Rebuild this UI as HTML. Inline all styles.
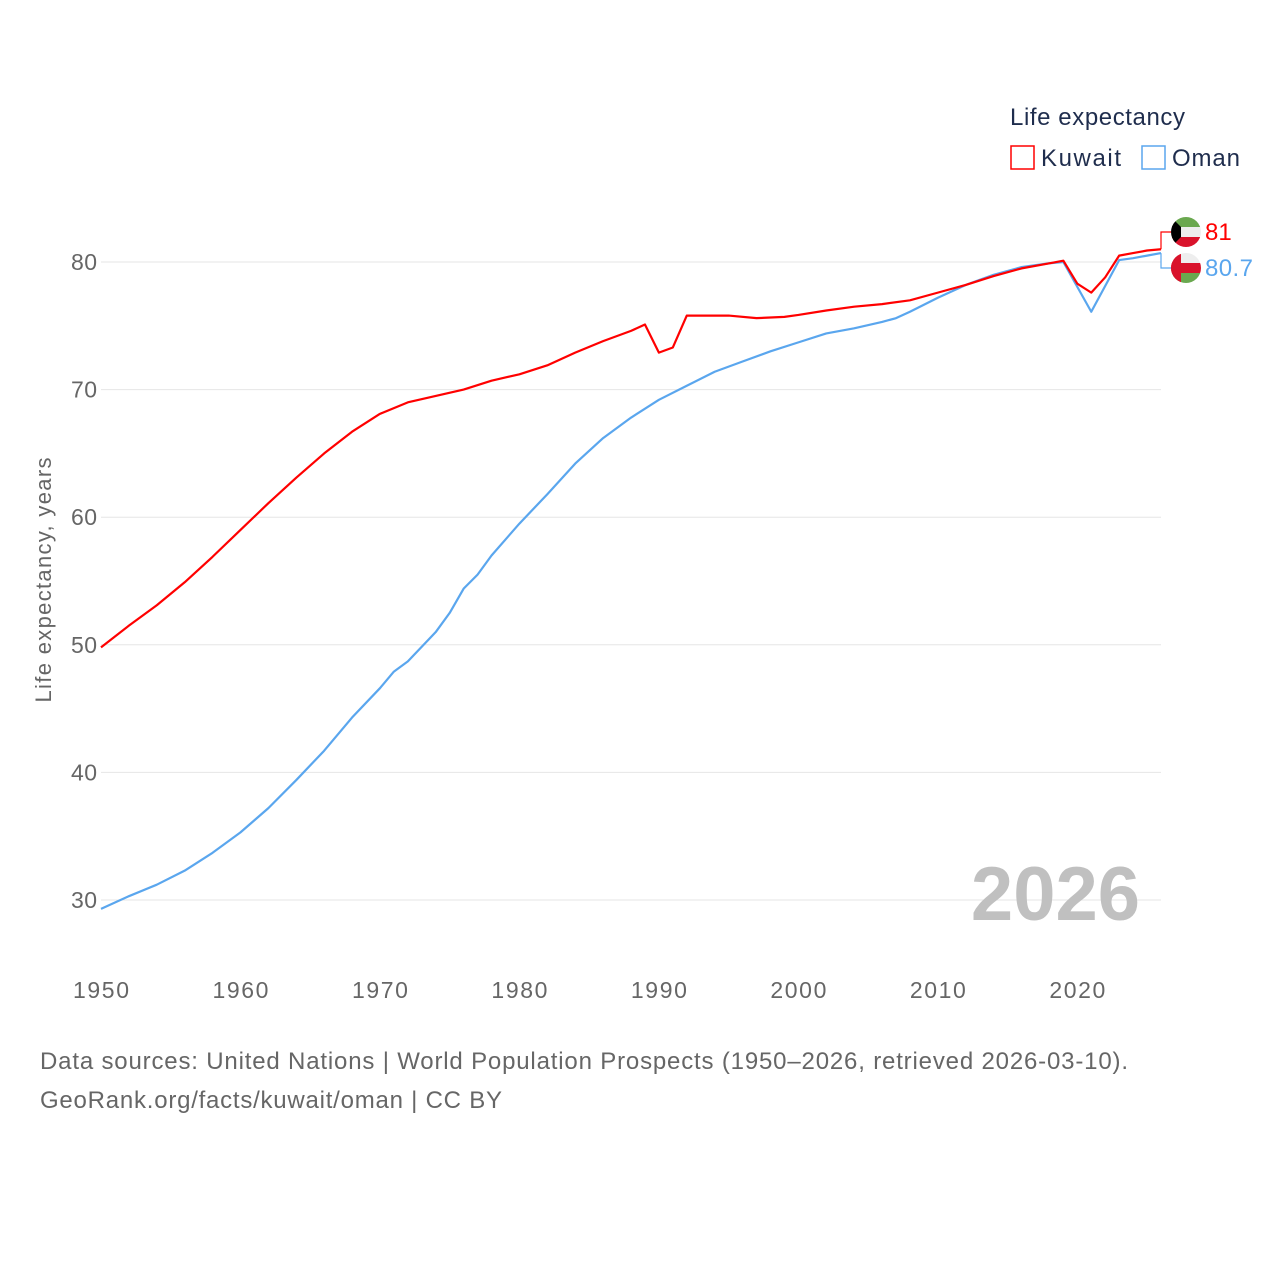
<!DOCTYPE html>
<html><head><meta charset="utf-8"><style>
body{margin:0;background:#fff;width:1280px;height:1280px;overflow:hidden;font-family:"Liberation Sans",sans-serif}
svg text{font-family:"Liberation Sans",sans-serif}
</style></head><body>
<svg id="c" width="1280" height="1280">
<text x="1010" y="125" font-size="24" fill="#1f2d4d" textLength="175">Life expectancy</text>
<g><rect x="1011" y="146" width="23" height="23" fill="none" stroke="#f00" stroke-width="1.5"/><text x="1041" y="166" font-size="24" fill="#1f2d4d" textLength="80">Kuwait</text></g>
<g><rect x="1142" y="146" width="23" height="23" fill="none" stroke="#5aa6ee" stroke-width="1.5"/><text x="1172" y="166" font-size="24" fill="#1f2d4d" textLength="68">Oman</text></g>
<text transform="translate(51,580) rotate(-90)" text-anchor="middle" font-size="22" fill="#666" textLength="245">Life expectancy, years</text>
<text x="1140" y="920" text-anchor="end" font-size="76" font-weight="bold" fill="#c0c0c0">2026</text>
<text x="40" y="1069" font-size="24" fill="#666" textLength="1088">Data sources: United Nations | World Population Prospects (1950–2026, retrieved 2026-03-10).</text>
<text x="40" y="1108" font-size="24" fill="#666" textLength="462">GeoRank.org/facts/kuwait/oman | CC BY</text>
</svg>
<script>
const yTicks=[30,40,50,60,70,80];
const xTicks=[1950,1960,1970,1980,1990,2000,2010,2020];
const kuwaitYears=[1950,1952,1954,1956,1958,1960,1962,1964,1966,1968,1970,1972,1974,1976,1978,1980,1982,1984,1986,1988,1989,1990,1991,1992,1993,1995,1997,1999,2000,2002,2004,2006,2008,2010,2012,2014,2016,2018,2019,2020,2021,2022,2023,2024,2025,2026];
const kuwaitValues=[49.8,51.5,53.1,54.9,56.9,59.0,61.1,63.1,65.0,66.7,68.1,69.0,69.5,70.0,70.7,71.2,71.9,72.9,73.8,74.6,75.1,72.9,73.3,75.8,75.8,75.8,75.6,75.7,75.85,76.2,76.5,76.7,77.0,77.6,78.2,78.9,79.5,79.9,80.1,78.3,77.6,78.8,80.5,80.7,80.9,81.0];
const omanYears=[1950,1952,1954,1956,1958,1960,1962,1964,1966,1968,1970,1971,1972,1974,1975,1976,1977,1978,1980,1982,1984,1986,1988,1990,1992,1994,1996,1998,2000,2002,2004,2006,2007,2008,2010,2012,2014,2016,2018,2019,2021,2023,2024,2025,2026];
const omanValues=[29.3,30.3,31.2,32.3,33.7,35.3,37.2,39.4,41.7,44.3,46.6,47.9,48.7,51.0,52.5,54.4,55.5,57.0,59.5,61.8,64.2,66.2,67.8,69.2,70.3,71.4,72.2,73.0,73.7,74.4,74.8,75.3,75.6,76.1,77.2,78.2,79.0,79.6,79.9,80.0,76.1,80.15,80.3,80.5,80.7];
const NS='http://www.w3.org/2000/svg';
const svg=document.getElementById('c');
const x=v=>101+(v-1950)*(1060/76);
const y=v=>262-(v-80)*12.76;
function mk(t,a){const e=document.createElementNS(NS,t);for(const k in a)e.setAttribute(k,a[k]);svg.insertBefore(e,svg.firstChild);return e;}
function add(t,a){const e=document.createElementNS(NS,t);for(const k in a)e.setAttribute(k,a[k]);svg.appendChild(e);return e;}
yTicks.forEach(v=>{
 const g=mk('line',{x1:101,x2:1161,y1:y(v),y2:y(v),stroke:'#e6e6e6','stroke-width':1});
 
 
 const t=add('text',{x:97,y:y(v)+8,'text-anchor':'end','font-size':23,fill:'#666',textLength:26});t.textContent=v;
 
 
});
xTicks.forEach(v=>{
 const t=add('text',{x:x(v)-28,y:998,'font-size':23,fill:'#666',textLength:56});t.textContent=v;
 
 
});
function line(ys,vs,col,name){
 const p=add('polyline',{points:ys.map((yr,i)=>x(yr)+','+y(vs[i])).join(' '),fill:'none',stroke:col,'stroke-width':2.2,'stroke-linejoin':'round'});
 
 
}
line(omanYears,omanValues,'#5aa6ee','oman-line');
line(kuwaitYears,kuwaitValues,'#f00','kuwait-line');
const kl=kuwaitValues[kuwaitValues.length-1],ol=omanValues[omanValues.length-1];
const ky=232,oy=268,ex=x(2026);
add('polyline',{points:`${ex},${y(kl)} ${ex},${ky} ${ex+10},${ky}`,fill:'none',stroke:'#f00','stroke-width':1.2});
add('polyline',{points:`${ex},${y(ol)} ${ex},${oy} ${ex+10},${oy}`,fill:'none',stroke:'#5aa6ee','stroke-width':1.2});
const kf=add('g',{});
const clipK=add('clipPath',{id:'ck'});const c1=document.createElementNS(NS,'circle');c1.setAttribute('cx',1186);c1.setAttribute('cy',ky);c1.setAttribute('r',15);clipK.appendChild(c1);
[['#6aa84f',ky-15],['#eee',ky-5],['#d9122b',ky+5]].forEach(([c,yy])=>{const r=document.createElementNS(NS,'rect');r.setAttribute('x',1171);r.setAttribute('y',yy);r.setAttribute('width',30);r.setAttribute('height',10.1);r.setAttribute('fill',c);r.setAttribute('clip-path','url(#ck)');kf.appendChild(r);});
const tri=document.createElementNS(NS,'polygon');tri.setAttribute('points',`1171,${ky-15} 1181,${ky-5} 1181,${ky+5} 1171,${ky+15}`);tri.setAttribute('fill','#000');tri.setAttribute('clip-path','url(#ck)');kf.appendChild(tri);
const of=add('g',{});
const clipO=add('clipPath',{id:'co'});const c2=document.createElementNS(NS,'circle');c2.setAttribute('cx',1186);c2.setAttribute('cy',oy);c2.setAttribute('r',15);clipO.appendChild(c2);
[['#eee',1171,oy-15,30,10],['#d9122b',1171,oy-5,30,10],['#6aa84f',1171,oy+5,30,10],['#d9122b',1171,oy-15,10,30]].forEach(([c,xx,yy,w,h])=>{const r=document.createElementNS(NS,'rect');r.setAttribute('x',xx);r.setAttribute('y',yy);r.setAttribute('width',w);r.setAttribute('height',h);r.setAttribute('fill',c);r.setAttribute('clip-path','url(#co)');of.appendChild(r);});
const kt=add('text',{x:1205,y:ky+8,'font-size':24,fill:'#f00'});kt.textContent=kl;


const ot=add('text',{x:1205,y:oy+8,'font-size':24,fill:'#5aa6ee',textLength:48});ot.textContent=ol;


</script>
</body></html>
